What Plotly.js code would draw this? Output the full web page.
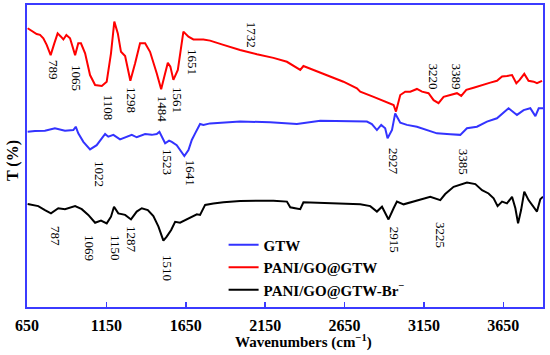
<!DOCTYPE html>
<html>
<head>
<meta charset="utf-8">
<script src="https://cdn.plot.ly/plotly-3.0.1.min.js"></script>
<style>html,body{margin:0;padding:0;background:#fff;}#chart{width:550px;height:355px;}</style>
</head>
<body>
<div id="chart"></div>
<script>
// Wavenumbers (cm-1) and transmittance (arbitrary offset units)
const gtwX = [654,700,763,826,889,942,957,973,1005,1047,1089,1125,1142,1162,1194,1236,1278,1310,1341,1394,1436,1467,1484,1503,1520,1545,1562,1593,1641,1667,1688,1709,1740,1761,1803,1992,2181,2350,2497,2791,2822,2854,2881,2906,2921,2949,2969,3001,3043,3106,3169,3232,3316,3379,3421,3484,3547,3610,3683,3736,3778,3820,3852,3873,3900];
const gtwY = [58.0,58.3,58.4,59.2,58.4,58.6,59.7,57.5,54.7,52.2,53.6,56.4,57.3,56.4,57.0,55.5,56.4,57.0,56.2,57.3,57.0,57.3,58.0,55.9,54.2,55.1,54.7,53.6,50.0,52.0,55.3,57.5,60.6,60.3,60.8,61.4,61.2,60.6,61.7,61.4,60.6,58.6,60.3,59.2,55.9,58.6,64.1,61.0,60.3,59.7,58.6,57.5,57.2,57.0,59.2,59.7,61.4,62.5,65.8,63.6,65.2,65.8,63.2,65.8,65.8];

const paniX = [654,680,711,732,753,774,799,822,843,864,879,898,921,953,973,990,1016,1047,1079,1121,1152,1179,1200,1222,1242,1268,1301,1331,1362,1394,1425,1467,1495,1515,1537,1553,1572,1600,1621,1635,1667,1698,1761,1803,1887,1992,2098,2202,2287,2339,2371,2391,2454,2517,2580,2643,2728,2749,2833,2885,2927,2959,2974,2990,3001,3032,3064,3106,3138,3179,3211,3242,3274,3316,3358,3385,3417,3463,3526,3568,3610,3642,3673,3705,3732,3753,3782,3809,3841,3862,3894];
const paniY = [92.3,91.5,90.4,90.1,89.0,86.8,83.4,87.3,90.6,89.5,88.6,90.1,89.0,83.4,87.3,87.3,84.0,76.8,73.5,73.2,74.6,84.0,94.5,90.6,84.5,83.1,74.9,80.7,87.3,87.3,84.5,77.4,72.1,76.3,80.9,79.6,75.2,78.5,87.3,91.2,89.5,88.6,88.6,88.2,86.8,85.1,83.7,82.5,81.2,79.6,78.5,79.8,78.5,77.2,75.7,74.6,72.4,71.3,69.6,68.5,67.5,66.9,64.7,67.5,70.2,71.3,71.3,72.2,71.3,70.8,68.5,67.5,69.6,70.2,70.8,69.9,71.9,72.6,73.7,74.3,74.9,76.3,76.5,76.8,74.1,75.2,77.2,74.9,74.6,74.1,74.9];

const brX = [654,721,763,801,847,889,953,995,1036,1079,1116,1152,1179,1198,1225,1268,1305,1341,1373,1411,1446,1478,1509,1530,1558,1583,1614,1646,1677,1720,1740,1772,1824,1887,1992,2098,2202,2287,2308,2339,2371,2391,2476,2560,2643,2749,2812,2854,2886,2927,2959,2980,3022,3085,3148,3190,3253,3284,3337,3379,3421,3474,3516,3557,3589,3614,3642,3673,3705,3726,3743,3762,3782,3809,3841,3862,3883,3900];
const brY = [34.1,33.4,32.1,31.0,32.7,32.4,33.4,32.4,30.5,27.9,28.6,27.7,29.9,33.2,31.0,30.5,29.0,31.6,32.7,32.1,30.1,26.6,22.0,23.3,25.5,28.2,27.9,28.8,29.4,30.7,30.5,33.8,34.3,34.7,35.1,35.1,35.2,34.9,33.0,32.7,32.4,34.7,34.5,34.5,34.3,34.0,33.4,31.6,33.2,29.0,32.7,34.9,34.0,34.9,35.7,36.5,35.4,37.4,39.8,40.4,41.2,40.7,38.7,37.6,36.0,33.4,34.9,34.3,36.5,32.7,27.7,32.1,38.2,35.4,33.2,31.6,35.7,36.5];

const tickVals = [650,1150,1650,2150,2650,3150,3650];

// peak labels: text, x, y
const paniLabels = ["789","1065","1108","1298","1484","1561","1651","1732","3220","3389"];
const paniLabX = [814,965,1161,1312,1501,1602,1696,2062,3209,3354];
const paniLabY = [78.5,75.8,65.9,68.5,65.6,68.5,81.1,90.1,76.2,76.2];
const gtwLabels = ["1022","1523","1641","2927","3385"];
const gtwLabX = [1110,1539,1677,2963,3404];
const gtwLabY = [44.0,48.0,44.4,48.3,48.0];
const brLabels = ["787","1069","1150","1287","1510","2915","3225"];
const brLabX = [833,1047,1211,1312,1539,2963,3259];
const brLabY = [23.5,19.5,19.5,22.5,12.9,22.2,23.8];

const serif = "Liberation Serif, Times New Roman, serif";
const axisBlue = "#3b3bff";

const traces = [
  {x: gtwX, y: gtwY, name: "GTW", mode: "lines", line: {color: "#3333ff", width: 2}},
  {x: paniX, y: paniY, name: "PANI/GO@GTW", mode: "lines", line: {color: "#ff0000", width: 2}},
  {x: brX, y: brY, name: "PANI/GO@GTW-Br<sup>−</sup>", mode: "lines", line: {color: "#000000", width: 2}}
];

const annotations = [];
function addLabels(texts, xs, ys) {
  for (let i = 0; i < texts.length; i++) {
    annotations.push({x: xs[i], y: ys[i], xref: "x", yref: "y", text: texts[i], showarrow: false,
      textangle: 90, font: {family: serif, size: 13, color: "#000"}});
  }
}
addLabels(paniLabels, paniLabX, paniLabY);
addLabels(gtwLabels, gtwLabX, gtwLabY);
addLabels(brLabels, brLabX, brLabY);
annotations.push({xref: "paper", yref: "paper", x: 0.535, y: -0.113, yanchor: "middle", xanchor: "center",
  text: "Wavenumbers (cm<sup>−1</sup>)", showarrow: false, font: {family: serif, size: 15, color: "#000", weight: "bold"}});
annotations.push({xref: "paper", yref: "paper", x: -0.028, y: 0.485, xanchor: "center", yanchor: "middle",
  text: "T (%)", textangle: -90, showarrow: false, font: {family: serif, size: 16, color: "#000", weight: "bold"}});

const layout = {
  width: 550, height: 355,
  margin: {l: 27, r: 7, t: 5, b: 48},
  paper_bgcolor: "#fff", plot_bgcolor: "#fff",
  showlegend: true,
  legend: {x: 0.381, y: 0.26, xanchor: "left", yanchor: "top", bgcolor: "rgba(0,0,0,0)",
    font: {family: serif, size: 15, color: "#000", weight: "bold"}, tracegroupgap: 0},
  xaxis: {range: [650, 3900], tickvals: tickVals, ticktext: tickVals.map(String),
    showgrid: false, zeroline: false, showline: true, mirror: true, linecolor: axisBlue, linewidth: 2,
    ticks: "inside", ticklen: 5, tickwidth: 1.5, tickcolor: axisBlue, ticklabelstandoff: 3,
    tickfont: {family: serif, size: 16, color: "#000", weight: "bold"}},
  yaxis: {range: [0, 100], showticklabels: false, ticks: "", showgrid: false, zeroline: false,
    showline: true, mirror: true, linecolor: axisBlue, linewidth: 2},
  annotations: annotations
};

Plotly.newPlot("chart", traces, layout, {displayModeBar: false, staticPlot: true});
</script>
</body>
</html>
